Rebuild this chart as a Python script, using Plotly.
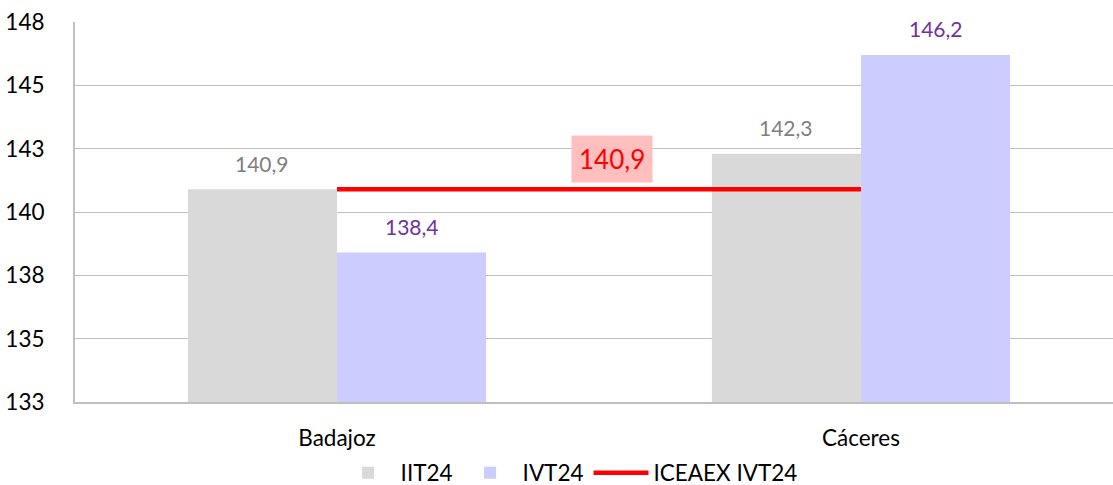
import plotly.graph_objects as go

# Provinces and series values
categories = ["Badajoz", "Cáceres"]
iit24 = [140.9, 142.3]
ivt24 = [138.4, 146.2]
iceaex_ivt24 = 140.9

y_tickvals = [132.5, 135, 137.5, 140, 142.5, 145, 147.5]
y_ticktext = ["133", "135", "138", "140", "143", "145", "148"]

FONT = "Lato, 'Open Sans', sans-serif"
GRAY_TEXT = "#7F7F7F"
PURPLE_TEXT = "#7030A0"


def fmt(v):
    return f"{v:.1f}".replace(".", ",")


xpos = list(range(len(categories)))

fig = go.Figure()
fig.add_trace(go.Bar(x=xpos, y=iit24, name="IIT24", marker=dict(color="#D9D9D9", line=dict(width=0))))
fig.add_trace(go.Bar(x=xpos, y=ivt24, name="IVT24", marker=dict(color="#CCCCFF", line=dict(width=0))))
fig.add_trace(go.Scatter(
    x=xpos, y=[iceaex_ivt24] * len(xpos), mode="lines", name="ICEAEX IVT24",
    line=dict(color="#FF0000", width=4.5),
))

# Value labels above each bar
group_w = 1 - 0.431
off = group_w / 4
annotations = []
for i, v in enumerate(iit24):
    annotations.append(dict(x=i - off, y=v, text=fmt(v), showarrow=False, yanchor="middle",
                            yshift=26, font=dict(family=FONT, size=21, color=GRAY_TEXT)))
for i, v in enumerate(ivt24):
    annotations.append(dict(x=i + off, y=v, text=fmt(v), showarrow=False, yanchor="middle",
                            yshift=26, font=dict(family=FONT, size=21, color=PURPLE_TEXT)))
# Regional reference label
annotations.append(dict(x=0.524, y=iceaex_ivt24, text=fmt(iceaex_ivt24), showarrow=False,
                        yanchor="middle", yshift=30, bgcolor="#FFBFBF", borderpad=7,
                        font=dict(family=FONT, size=26, color="#FF0000")))

fig.update_layout(
    width=1113, height=485,
    margin=dict(l=75, r=0, t=22, b=83, autoexpand=False),
    paper_bgcolor="white", plot_bgcolor="white",
    barmode="group", bargap=0.431, bargroupgap=0,
    font=dict(family=FONT, size=22.5, color="#000000"),
    showlegend=True,
    legend=dict(orientation="h", x=0.476, xanchor="center", y=-0.187, yanchor="middle",
                font=dict(family=FONT, size=22.5, color="#000000"), itemwidth=55,
                traceorder="normal", bgcolor="rgba(0,0,0,0)"),
    annotations=annotations,
    xaxis=dict(
        tickvals=xpos, ticktext=categories, range=[-0.5, 1.481],
        showgrid=False, zeroline=False, showline=True, linecolor="#BFBFBF", linewidth=2,
        ticks="", ticklabelstandoff=15, tickfont=dict(family=FONT, size=22.5, color="#000000"),
    ),
    yaxis=dict(
        range=[132.5, 147.5], tickvals=y_tickvals, ticktext=y_ticktext,
        showgrid=True, gridcolor="#BFBFBF", gridwidth=1, zeroline=False,
        showline=True, linecolor="#BFBFBF", linewidth=2, ticks="",
        ticklabelstandoff=24, tickfont=dict(family=FONT, size=22.5, color="#000000"),
    ),
)

fig.write_html("out.html")
